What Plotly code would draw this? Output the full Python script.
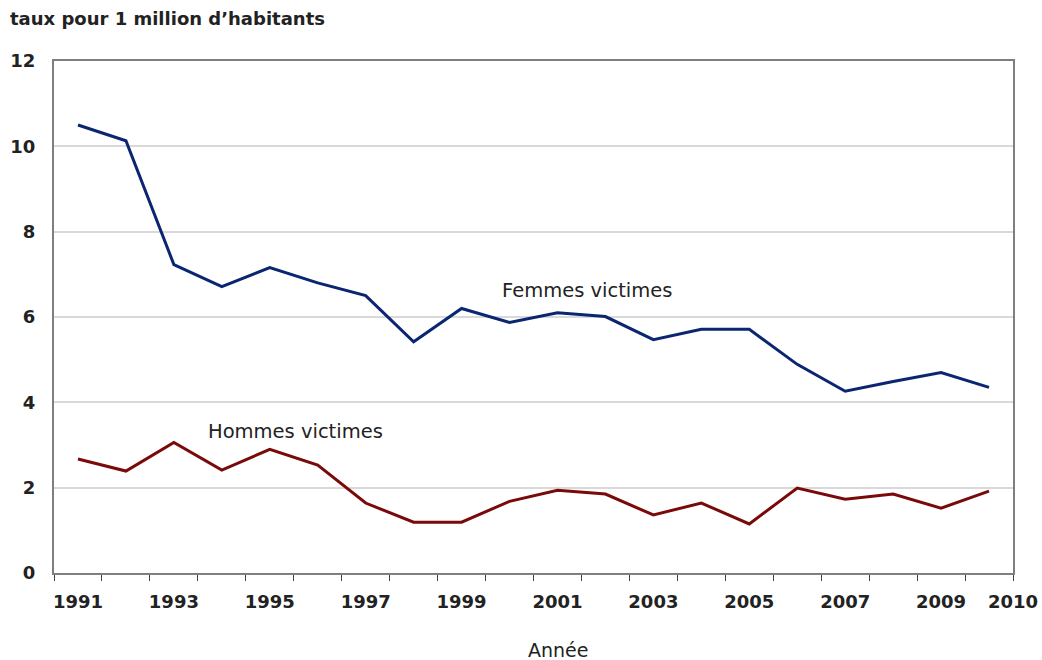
import plotly.graph_objects as go

years = list(range(1991, 2011))
femmes = [10.5, 10.13, 7.23, 6.71, 7.16, 6.8, 6.5, 5.42, 6.2, 5.87,
          6.1, 6.01, 5.47, 5.71, 5.71, 4.89, 4.26, 4.49, 4.7, 4.35]
hommes = [2.67, 2.39, 3.06, 2.41, 2.9, 2.53, 1.64, 1.19, 1.19, 1.68,
          1.94, 1.85, 1.36, 1.64, 1.15, 1.99, 1.73, 1.85, 1.52, 1.92]
tick_labels = ["1991", "1993", "1995", "1997", "1999", "2001", "2003",
               "2005", "2007", "2009", "2010"]
y_ticks = [0, 2, 4, 6, 8, 10, 12]

FONT = "DejaVu Sans"
x_lo, x_hi = years[0] - 0.5, years[-1] + 0.5
# odd-year labels at their category centres, the final label at the axis end
tick_pos = [int(t) for t in tick_labels[:-1]] + [x_hi]

fig = go.Figure()
fig.add_trace(go.Scatter(x=years, y=femmes, mode="lines", name="Femmes victimes",
                         line=dict(color="#0b2670", width=3)))
fig.add_trace(go.Scatter(x=years, y=hommes, mode="lines", name="Hommes victimes",
                         line=dict(color="#7a0a0a", width=3)))

L, R, T, B = 54, 1013, 61, 573
W, H = 1042, 660
pw, ph = R - L, B - T
fig.update_layout(
    width=W, height=H,
    margin=dict(l=L, r=W - R, t=T, b=H - B),
    paper_bgcolor="white", plot_bgcolor="white",
    showlegend=False,
    font=dict(family=FONT, color="#222222"),
)
fig.update_xaxes(
    range=[x_lo, x_hi], automargin=False,
    tickmode="array", tickvals=tick_pos, ticktext=tick_labels,
    tickangle=0, ticklabelstandoff=11,
    ticks="", tickfont=dict(family=FONT, size=18, color="#222222", weight="bold"),
    showgrid=False, zeroline=False,
    showline=True, linecolor="#7f7f7f", linewidth=2, mirror=True,
    minor=dict(tickmode="linear", tick0=x_lo, dtick=1, ticks="outside",
               ticklen=6, tickcolor="#444444", tickwidth=1, showgrid=False),
)
fig.update_yaxes(
    range=[0, 12], tickmode="array", tickvals=y_ticks, automargin=False,
    tickfont=dict(family=FONT, size=18, color="#222222", weight="bold"),
    ticks="", ticklabelstandoff=13,
    showgrid=True, gridcolor="#d9d9d9", gridwidth=2, zeroline=False,
    showline=True, linecolor="#7f7f7f", linewidth=2, mirror=True,
)
fig.add_annotation(text="taux pour 1 million d’habitants", xref="paper", yref="paper",
                   x=(8 - L) / pw, y=1 + (T - 18) / ph, xanchor="left", yanchor="middle",
                   showarrow=False, font=dict(family=FONT, size=18, color="#222222", weight="bold"))
fig.add_annotation(text="Année", xref="paper", yref="paper",
                   x=(558 - L) / pw, y=-(650 - B) / ph, xanchor="center", yanchor="middle",
                   showarrow=False, font=dict(family=FONT, size=19, color="#222222"))
fig.add_annotation(text="Femmes victimes", xref="paper", yref="paper",
                   x=(587 - L) / pw, y=(B - 290) / ph, xanchor="center", yanchor="middle",
                   showarrow=False, font=dict(family=FONT, size=19.5, color="#222222"))
fig.add_annotation(text="Hommes victimes", xref="paper", yref="paper",
                   x=(295 - L) / pw, y=(B - 431) / ph, xanchor="center", yanchor="middle",
                   showarrow=False, font=dict(family=FONT, size=19.5, color="#222222"))

fig.write_html("out.html", config={"displayModeBar": False},
               post_script="document.body.style.margin='0';")
